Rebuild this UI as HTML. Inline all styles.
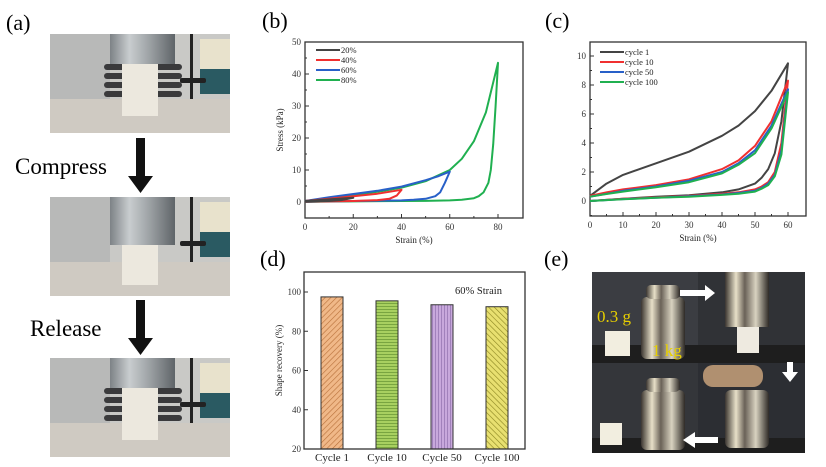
<!DOCTYPE html>
<html><head><meta charset="utf-8"><style>
body{margin:0;background:#fff;}
svg{display:block;font-family:"Liberation Serif",serif;}
</style></head><body>
<svg width="826" height="467" viewBox="0 0 826 467">
<defs>
<linearGradient id="metal" x1="0" x2="1"><stop offset="0" stop-color="#7d8286"/><stop offset="0.3" stop-color="#c9cdcf"/><stop offset="0.6" stop-color="#9ea3a6"/><stop offset="1" stop-color="#5f6468"/></linearGradient>
<linearGradient id="wt" x1="0" x2="1"><stop offset="0" stop-color="#3a3530"/><stop offset="0.25" stop-color="#e8e0c8"/><stop offset="0.45" stop-color="#6a6258"/><stop offset="0.7" stop-color="#d8d2c0"/><stop offset="1" stop-color="#2e2a26"/></linearGradient>
<pattern id="h1" width="4" height="4" patternUnits="userSpaceOnUse" patternTransform="rotate(45)"><rect width="4" height="4" fill="#f0b888"/><line x1="0" y1="0" x2="0" y2="4" stroke="#b8703a" stroke-width="1.2"/></pattern>
<pattern id="h2" width="4" height="3" patternUnits="userSpaceOnUse"><rect width="4" height="3" fill="#a8d060"/><line x1="0" y1="0" x2="4" y2="0" stroke="#4a7a20" stroke-width="1"/></pattern>
<pattern id="h3" width="3" height="4" patternUnits="userSpaceOnUse"><rect width="3" height="4" fill="#c8a8dc"/><line x1="0" y1="0" x2="0" y2="4" stroke="#7a5a9a" stroke-width="1"/></pattern>
<pattern id="h4" width="4" height="4" patternUnits="userSpaceOnUse" patternTransform="rotate(-45)"><rect width="4" height="4" fill="#e8e070"/><line x1="0" y1="0" x2="0" y2="4" stroke="#8a8420" stroke-width="1.2"/></pattern>
</defs>

<text x="6" y="30" font-size="22">(a)</text>
<g id="photos-a"></g>
<text x="15" y="174" font-size="23">Compress</text>
<text x="30" y="336" font-size="23">Release</text>
<g><rect x="136" y="138" width="9" height="40" fill="#111"/><polygon points="128,176 153,176 140.5,193" fill="#111"/></g>
<g><rect x="136" y="300" width="9" height="40" fill="#111"/><polygon points="128,338 153,338 140.5,355" fill="#111"/></g>

<text x="262" y="28" font-size="22">(b)</text>
<text x="545" y="28" font-size="22">(c)</text>
<text x="260" y="266" font-size="22">(d)</text>
<text x="544" y="266" font-size="22">(e)</text>

<g id="chart-b"></g>
<g id="chart-c"></g>
<g id="chart-d"></g>

<g>
<rect x="592" y="272" width="213" height="181" fill="#2a2a2c"/>
<rect x="592" y="272" width="106" height="91" fill="#3b3d42"/>
<rect x="698" y="272" width="107" height="91" fill="#303236"/>
<rect x="592" y="363" width="106" height="90" fill="#34363a"/>
<rect x="698" y="363" width="107" height="90" fill="#2c2e33"/>
<rect x="592" y="345" width="213" height="18" fill="#1e1e1e"/>
<rect x="592" y="438" width="213" height="15" fill="#1e1e1e"/>
<rect x="641" y="297" width="44" height="62" rx="6" fill="url(#wt)"/>
<rect x="646" y="285" width="34" height="14" rx="5" fill="url(#wt)"/>
<rect x="725" y="272" width="44" height="55" fill="url(#wt)"/>
<rect x="737" y="327" width="22" height="26" fill="#eeeae0"/>
<rect x="605" y="331" width="25" height="25" fill="#f2eee0"/>
<rect x="641" y="390" width="44" height="60" rx="6" fill="url(#wt)"/>
<rect x="646" y="378" width="34" height="14" rx="5" fill="url(#wt)"/>
<rect x="725" y="390" width="44" height="58" rx="6" fill="url(#wt)"/>
<rect x="703" y="365" width="60" height="22" rx="10" fill="#b09070"/>
<rect x="600" y="423" width="22" height="22" fill="#f2eee0"/>
<polygon points="680,290 705,290 705,285 715,293 705,301 705,296 680,296" fill="#fff"/>
<polygon points="787,362 793,362 793,372 798,372 790,382 782,372 787,372" fill="#fff"/>
<polygon points="718,437 695,437 695,432 683,440 695,448 695,443 718,443" fill="#fff"/>
<text x="597" y="322" font-size="17" fill="#e8d000">0.3 g</text>
<text x="652" y="356" font-size="17" fill="#e8d000">1 kg</text>
</g>

<script>
const NS='http://www.w3.org/2000/svg';
function mk(parent,tag,attrs){const e=document.createElementNS(NS,tag);for(const k in attrs)e.setAttribute(k,attrs[k]);parent.appendChild(e);return e;}

(function(){
  const g=document.getElementById('photos-a');
  const tops=[34,197,358];
  tops.forEach((t,i)=>{
    const p=mk(g,'g',{});
    
    
    mk(p,'rect',{x:50,y:t,width:180,height:99,fill:'#c9c9c6'});
    mk(p,'rect',{x:50,y:t,width:60,height:65,fill:'#b8b9b8'});
    mk(p,'rect',{x:200,y:t+5,width:30,height:30,fill:'#e8e2cc'});
    mk(p,'rect',{x:200,y:t+35,width:30,height:25,fill:'#2a5a62'});
    mk(p,'rect',{x:190,y:t,width:3,height:65,fill:'#222'});
    mk(p,'rect',{x:180,y:t+44,width:26,height:5,rx:2,fill:'#222'});
    mk(p,'rect',{x:50,y:t+65,width:180,height:34,fill:'#cfcac2'});
    const h=i==1?48:30;
    mk(p,'rect',{x:110,y:t,width:65,height:h,fill:'url(#metal)'});
    if(i!=1){for(let k=0;k<4;k++){mk(p,'rect',{x:104,y:t+30+k*9,width:78,height:6,rx:3,fill:'#3a3a3c'});}}
    mk(p,'rect',{x:122,y:t+h,width:36,height:(i==1?76:70)-h+12,fill:'#ece8de'});
  });
})();

const bStrain20=[0,10,20], bStress20=[0.3,0.8,1.3];
const bStrain20u=[20,15,10,0], bStress20u=[1.3,0.6,0.3,0.1];
const bStrain40=[0,10,20,30,40], bStress40=[0.3,1.0,1.8,2.6,3.8];
const bStrain40u=[40,38,35,30,20,10,0], bStress40u=[3.8,2.0,1.0,0.6,0.3,0.2,0.1];
const bStrain60=[0,10,20,30,40,50,55,60], bStress60=[0.3,1.5,2.5,3.5,4.8,6.8,8,9.5];
const bStrain60u=[60,58,56,54,50,45,40,30,20,10,0], bStress60u=[9.5,6,3,1.8,1,0.7,0.5,0.4,0.3,0.2,0.1];
const bStrain80=[0,10,20,30,40,50,60,65,70,75,80], bStress80=[0.3,1.2,2.2,3.2,4.5,6.5,10,13.5,19,28,43.5];
const bStrain80u=[80,79,78,77,76,74,72,70,65,60,50,40,20,0], bStress80u=[43.5,30,18,10,6,3,1.8,1.2,0.7,0.5,0.35,0.3,0.2,0.1];
const bXTicks=[0,20,40,60,80], bYTicks=[0,10,20,30,40,50];
const bLegend=['20%','40%','60%','80%'];

const cLoadX=[0,5,10,20,30,40,45,50,55,60];
const cUnX=[60,58,56,54,52,50,45,40,30,20,10,0];
const cLoad1=[0.35,1.2,1.8,2.6,3.4,4.5,5.2,6.2,7.6,9.5];
const cUn1=[9.5,5.5,3.3,2.2,1.6,1.2,0.8,0.6,0.4,0.3,0.15,0];
const cLoad10=[0.35,0.6,0.8,1.1,1.5,2.2,2.8,3.8,5.5,8.3];
const cUn10=[8.3,4,2,1.3,1,0.8,0.6,0.5,0.35,0.25,0.15,0];
const cLoad50=[0.3,0.5,0.7,1.0,1.4,2.0,2.6,3.5,5.2,7.7];
const cUn50=[7.7,3.5,1.8,1.2,0.9,0.7,0.55,0.45,0.33,0.23,0.13,0];
const cLoad100=[0.3,0.48,0.65,0.95,1.3,1.9,2.5,3.3,5.0,7.5];
const cUn100=[7.5,3.2,1.7,1.1,0.85,0.65,0.5,0.42,0.3,0.22,0.12,0];
const cXTicks=[0,10,20,30,40,50,60], cYTicks=[0,2,4,6,8,10];
const cLegend=['cycle 1','cycle 10','cycle 50','cycle 100'];

const dCats=['Cycle 1','Cycle 10','Cycle 50','Cycle 100'];
const dVals=[97.5,95.5,93.5,92.5];
const dYTicks=[20,40,60,80,100];

function axes(g,box,xs,ys,xt,yt,xlab,ylab,minorX,minorY){
  mk(g,'rect',{x:box.l,y:box.t,width:box.r-box.l,height:box.b-box.t,fill:'none',stroke:'#333','stroke-width':1.3});
  xt.forEach(v=>{const X=xs(v);
    const tl=mk(g,'line',{x1:X,x2:X,y1:box.b,y2:box.b-4,stroke:'#333'});
    
    const t=mk(g,'text',{x:X,y:box.b+12,'font-size':9,'text-anchor':'middle',fill:'#333'});t.textContent=v;
    });
  minorX.forEach(v=>mk(g,'line',{x1:xs(v),x2:xs(v),y1:box.b,y2:box.b-2,stroke:'#333'}));
  yt.forEach(v=>{const Y=ys(v);
    mk(g,'line',{x1:box.l,x2:box.l+4,y1:Y,y2:Y,stroke:'#333'});
    const t=mk(g,'text',{x:box.l-4,y:Y+3,'font-size':9,'text-anchor':'end',fill:'#333'});t.textContent=v;
    });
  minorY.forEach(v=>mk(g,'line',{x1:box.l,x2:box.l+2,y1:ys(v),y2:ys(v),stroke:'#333'}));
  if(xlab){const t=mk(g,'text',{x:(box.l+box.r)/2,y:box.b+25,'font-size':9,'text-anchor':'middle',fill:'#222'});t.textContent=xlab;
    }
  if(ylab){const cx=box.l-22,cy=(box.t+box.b)/2;const t=mk(g,'text',{x:cx,y:cy,'font-size':9,'text-anchor':'middle',fill:'#222',transform:`rotate(-90 ${cx} ${cy})`});t.textContent=ylab;
    }
}
function pathOf(xs,ys,X,Y){return X.map((v,i)=>(i?'L':'M')+xs(v).toFixed(1)+','+ys(Y[i]).toFixed(1)).join('');}
function legend(g,x,y,names,cols){names.forEach((n,i)=>{
  const l=mk(g,'line',{x1:x,x2:x+24,y1:y+i*10,y2:y+i*10,stroke:cols[i],'stroke-width':2});
  
  const t=mk(g,'text',{x:x+25,y:y+i*10+3,'font-size':8.5,fill:'#222'});t.textContent=n;
  });}

(function(){
  const g=document.getElementById('chart-b');
  
  const box={l:305,r:523,t:42,b:218};
  const xs=v=>305+v*(498-305)/80, ys=v=>202-v*(202-42)/50;
  axes(g,box,xs,ys,bXTicks,bYTicks,'Strain (%)','Stress (kPa)',[10,30,50,70],[-5,5,15,25,35,45]);
  const cols=['#444','#f03030','#2860c8','#20b050'];
  const sets=[[bStrain80,bStress80,bStrain80u,bStress80u,3],[bStrain60,bStress60,bStrain60u,bStress60u,2],[bStrain40,bStress40,bStrain40u,bStress40u,1],[bStrain20,bStress20,bStrain20u,bStress20u,0]];
  sets.forEach(s=>{
    const p=mk(g,'path',{d:pathOf(xs,ys,s[0],s[1])+pathOf(xs,ys,s[2],s[3]).replace('M','L'),fill:'none',stroke:cols[s[4]],'stroke-width':2,'stroke-linejoin':'round'});
    
  });
  legend(g,316,50,bLegend,cols);
})();

(function(){
  const g=document.getElementById('chart-c');
  
  const box={l:590,r:806,t:42,b:216};
  const xs=v=>590+v*(788-590)/60, ys=v=>201-v*(201-56)/10;
  axes(g,box,xs,ys,cXTicks,cYTicks,'Strain (%)',null,[5,15,25,35,45,55],[-1,1,3,5,7,9]);
  const cols=['#444','#f03030','#2860c8','#20b050'];
  const sets=[[cLoad1,cUn1],[cLoad10,cUn10],[cLoad50,cUn50],[cLoad100,cUn100]];
  sets.forEach((s,i)=>{
    const p=mk(g,'path',{d:pathOf(xs,ys,cLoadX,s[0])+pathOf(xs,ys,cUnX,s[1]).replace('M','L'),fill:'none',stroke:cols[i],'stroke-width':2,'stroke-linejoin':'round'});
    
  });
  legend(g,600,52,cLegend,cols);
})();

(function(){
  const g=document.getElementById('chart-d');
  
  const box={l:304,r:525,t:272,b:449};
  const xs=i=>332+i*55, ys=v=>449-(v-20)*(449-292)/80;
  const fills=['url(#h1)','url(#h2)','url(#h3)','url(#h4)'];
  dVals.forEach((v,i)=>{
    const r=mk(g,'rect',{x:xs(i)-11,y:ys(v),width:22,height:ys(20)-ys(v),fill:fills[i],stroke:'#333','stroke-width':1});
    
  });
  mk(g,'rect',{x:box.l,y:box.t,width:box.r-box.l,height:box.b-box.t,fill:'none',stroke:'#333','stroke-width':1.3});
  dYTicks.forEach(v=>{mk(g,'line',{x1:box.l,x2:box.l+4,y1:ys(v),y2:ys(v),stroke:'#333'});
    const t=mk(g,'text',{x:box.l-3,y:ys(v)+3,'font-size':9,'text-anchor':'end',fill:'#333'});t.textContent=v;
    });
  dCats.forEach((c,i)=>{const t=mk(g,'text',{x:xs(i),y:box.b+12,'font-size':11,'text-anchor':'middle',fill:'#222'});t.textContent=c;
    });
  const cx=box.l-22,cy=(box.t+box.b)/2;
  const yl=mk(g,'text',{x:cx,y:cy,'font-size':9,'text-anchor':'middle',fill:'#222',transform:`rotate(-90 ${cx} ${cy})`});yl.textContent='Shape recovery (%)';
  
  const an=mk(g,'text',{x:455,y:294,'font-size':10.5,fill:'#222'});an.textContent='60% Strain';
  
})();
</script>
</svg>
</body></html>
